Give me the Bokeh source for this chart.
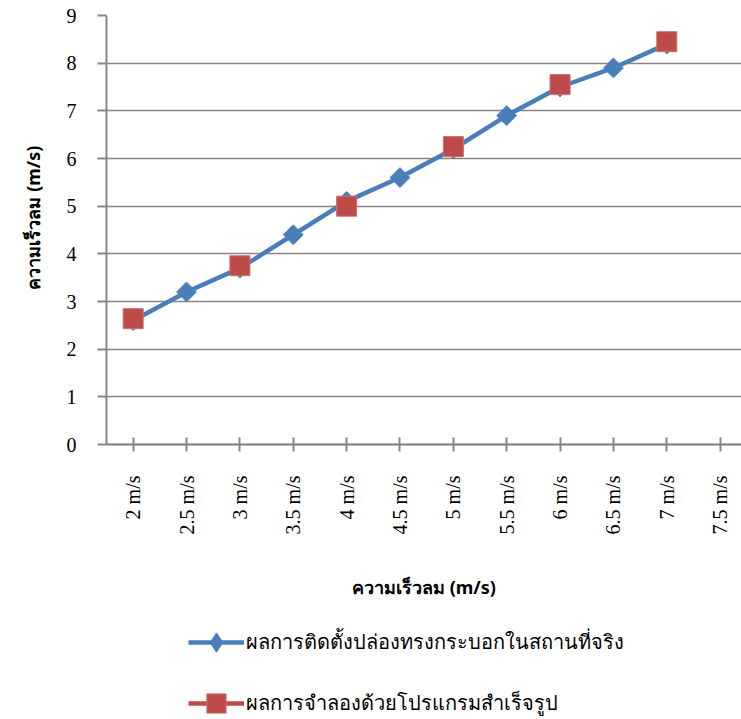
import math
from bokeh.plotting import figure
from bokeh.models import (Range1d, FixedTicker, Legend, LegendItem, ColumnDataSource, Title)
from bokeh.embed import file_html
from bokeh.resources import INLINE

# Wind speed categories (m/s) and their axis labels
speeds = [2.0, 2.5, 3.0, 3.5, 4.0, 4.5, 5.0, 5.5, 6.0, 6.5, 7.0, 7.5]
tick_labels = ["2 m/s", "2.5 m/s", "3 m/s", "3.5 m/s", "4 m/s", "4.5 m/s",
               "5 m/s", "5.5 m/s", "6 m/s", "6.5 m/s", "7 m/s", "7.5 m/s"]
y_ticks = [0, 1, 2, 3, 4, 5, 6, 7, 8, 9]

# Measured on site (cylindrical duct installed in the field)
field_values = [2.6, 3.2, 3.7, 4.4, 5.1, 5.6, 6.2, 6.9, 7.5, 7.9, 8.4, float("nan")]
# Simulated with the software package (only whole-number speeds)
sim_values = [2.64, float("nan"), 3.75, float("nan"), 5.0, float("nan"),
              6.25, float("nan"), 7.55, float("nan"), 8.45, float("nan")]

series_names = ["ผลการติดตั้งปล่องทรงกระบอกในสถานที่จริง",
                "ผลการจำลองด้วยโปรแกรมสำเร็จรูป"]
axis_title = "ความเร็วลม (m/s)"

BLUE = "#4A7EBB"
RED = "#BE4B48"
GRAY = "#868686"
SERIF = "Liberation Serif"
THAI = "Noto Sans"

src = ColumnDataSource(dict(x=speeds, field=field_values, sim=sim_values))

# The frame runs to the bottom of the canvas so that the category axis,
# its title and the legend all sit inside it, under the value 0.
p = figure(width=741, height=719, output_backend="svg", toolbar_location=None,
           x_range=Range1d(1.75, 7.7), y_range=Range1d(-5.769, 9),
           min_border_left=106, min_border_right=0, min_border_top=15,
           min_border_bottom=0)
p.outline_line_color = None
p.background_fill_color = "white"
p.border_fill_color = "white"

# category axis, pinned at value 0
xa = p.xaxis[0]
xa.fixed_location = 0
xa.ticker = FixedTicker(ticks=speeds)
xa.major_label_overrides = dict(zip(speeds, tick_labels))
xa.major_label_orientation = math.pi / 2
xa.major_label_text_font = SERIF
xa.major_label_text_font_size = "20px"
xa.major_label_text_color = "black"
xa.major_label_standoff = 24
xa.major_tick_in = 7
xa.major_tick_out = 7
xa.minor_tick_line_color = None
xa.axis_line_color = GRAY
xa.axis_line_width = 2
xa.major_tick_line_color = GRAY
xa.major_tick_line_width = 2
xa.axis_label = axis_title
xa.axis_label_text_font = THAI
xa.axis_label_text_font_style = "bold"
xa.axis_label_text_font_size = "18px"
xa.axis_label_text_color = "black"
xa.axis_label_standoff = 38

# value axis, limited to 0..9
ya = p.yaxis[0]
ya.bounds = (0, 9)
ya.ticker = FixedTicker(ticks=y_ticks)
ya.major_label_text_font = SERIF
ya.major_label_text_font_size = "20px"
ya.major_label_text_color = "black"
ya.major_label_standoff = 21
ya.major_tick_in = 0
ya.major_tick_out = 9
ya.minor_tick_line_color = None
ya.axis_line_color = GRAY
ya.axis_line_width = 2
ya.major_tick_line_color = GRAY
ya.major_tick_line_width = 2

# value-axis title, placed beside the 0..9 span of the axis
p.add_layout(Title(text=axis_title, align="left", offset=430,
                   vertical_align="top", standoff=34,
                   text_font=THAI, text_font_style="bold",
                   text_font_size="18px", text_color="black"), "left")

p.xgrid.grid_line_color = None
p.ygrid.ticker = FixedTicker(ticks=y_ticks)
p.ygrid.grid_line_color = GRAY
p.ygrid.grid_line_width = 1.6

# series
l1 = p.line("x", "field", source=src, line_color=BLUE, line_width=4.5)
m1 = p.scatter("x", "field", source=src, marker="square", angle=math.pi / 4,
               size=14, fill_color=BLUE, line_color=BLUE)
l2 = p.line("x", "sim", source=src, line_color=RED, line_width=4.5)
m2 = p.scatter("x", "sim", source=src, marker="square", size=20,
               fill_color=RED, line_color="#C9706D", line_width=1)

# legend key for the measured series: a diamond (hidden on the plot itself)
key1 = p.scatter("x", "field", source=src, marker="diamond", size=20,
                 fill_color=BLUE, line_color=BLUE, visible=False)

legend = Legend(items=[LegendItem(label=series_names[0], renderers=[l1, key1]),
                       LegendItem(label=series_names[1], renderers=[l2, m2])],
                location=(81.5, -8), orientation="vertical",
                glyph_width=56, glyph_height=48, label_height=48,
                spacing=13, padding=0, margin=0, label_standoff=2,
                label_text_font=THAI, label_text_font_size="20px",
                label_text_color="black", inactive_fill_alpha=0,
                border_line_color=None, background_fill_alpha=0)
p.add_layout(legend)

open("out.html", "w").write(file_html(p, INLINE))
